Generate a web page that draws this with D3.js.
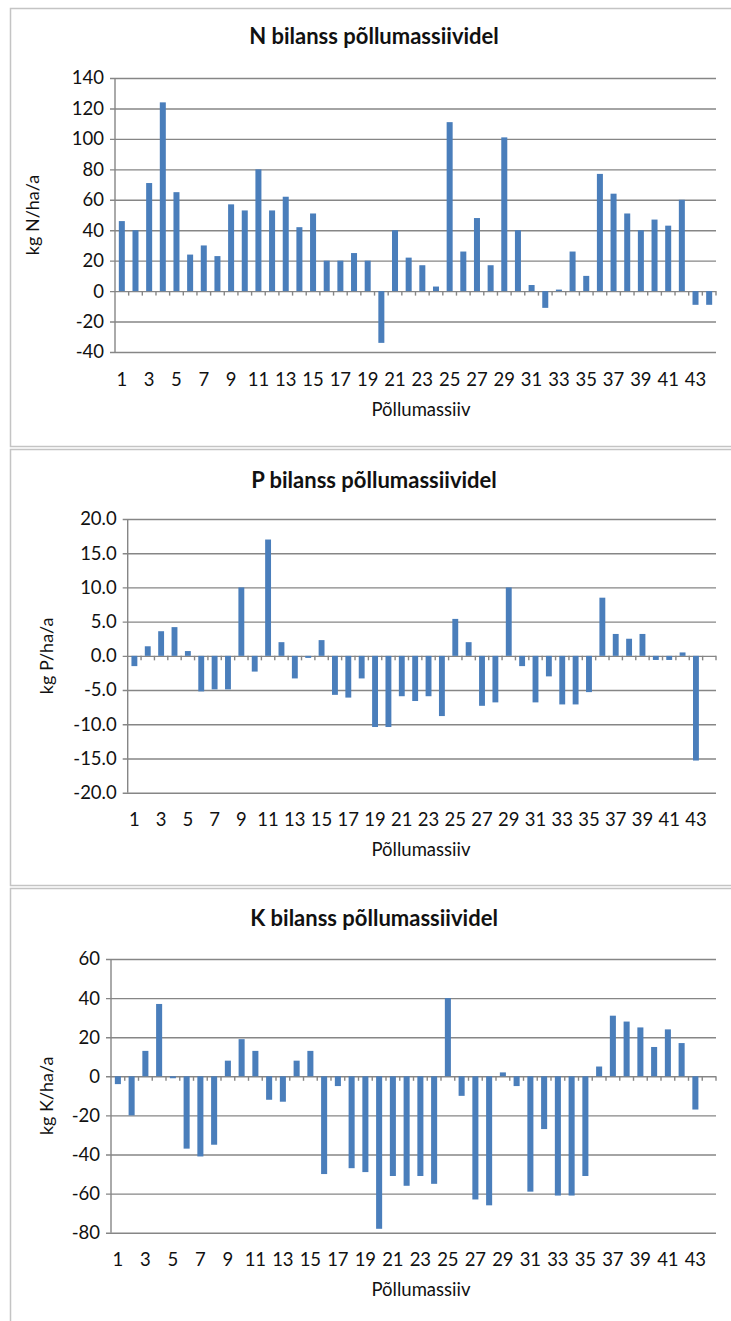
<!DOCTYPE html>
<html>
<head>
<meta charset="utf-8">
<script src="https://cdn.jsdelivr.net/npm/d3@7"></script>
<style>
  html, body { margin: 0; padding: 0; background: #fff; }
  svg { display: block; }
  text { font-family: Lato, "Open Sans", sans-serif; fill: #111; }
</style>
</head>
<body>
<svg id="chart" width="731" height="1321"></svg>
<script>
// Field block numbers (põllumassiivid) 1..44
const massiivid = d3.range(1, 45).map(String);

// Nitrogen balance, kg N/ha/a
const nBilanss = [46, 40, 71, 124, 65, 24, 30, 23, 57, 53,
                  80, 53, 62, 42, 51, 20, 20, 25, 20, -34,
                  40, 22, 17, 3, 111, 26, 48, 17, 101, 40,
                  4, -11, 1, 26, 10, 77, 64, 51, 40, 47,
                  43, 60, -9, -9];

// Phosphorus balance, kg P/ha/a
const pBilanss = [-1.5, 1.4, 3.6, 4.2, 0.7, -5.2, -4.9, -4.9, 10.0, -2.3,
                  17.0, 2.0, -3.3, -0.3, 2.3, -5.7, -6.1, -3.3, -10.4, -10.4,
                  -5.9, -6.6, -5.9, -8.8, 5.4, 2.0, -7.3, -6.8, 10.0, -1.5,
                  -6.8, -3.0, -7.1, -7.1, -5.3, 8.5, 3.2, 2.5, 3.2, -0.6,
                  -0.6, 0.5, -15.3, null];

// Potassium balance, kg K/ha/a
const kBilanss = [-4, -20, 13, 37, -1, -37, -41, -35, 8, 19,
                  13, -12, -13, 8, 13, -50, -5, -47, -49, -78,
                  -51, -56, -51, -55, 40, -10, -63, -66, 2, -5,
                  -59, -27, -61, -61, -51, 5, 31, 28, 25, 15,
                  24, 17, -17, null];

// Axis tick values
const nTicks = d3.range(-40, 141, 20);
const pTicks = d3.range(-20, 20.01, 5);
const kTicks = d3.range(-80, 61, 20);

const titles = ["N bilanss põllumassiividel", "P bilanss põllumassiividel", "K bilanss põllumassiividel"];
const yTitles = ["kg N/ha/a", "kg P/ha/a", "kg K/ha/a"];
const xTitle = "Põllumassiiv";

const barColor = "#4a7ebb";
const gridColor = "#868686";
const frameColor = "#c4c4c4";

// plain hyphen for negative numbers
const locale = d3.formatLocale({ decimal: ".", thousands: "", grouping: [3], currency: ["", ""], minus: "-" });

const svg = d3.select("#chart");

// Layout of the three stacked panels
const panels = [
  { values: nBilanss, ticks: nTicks, fmt: locale.format("d"),
    frame: [8, 446], titleY: 44, top: 78, bottom: 352, left: 115,
    yTitleX: 33, xLabY: 386, xTitleY: 416 },
  { values: pBilanss, ticks: pTicks, fmt: locale.format(".1f"),
    frame: [449, 885], titleY: 488, top: 519, bottom: 792.7, left: 127.7,
    yTitleX: 47, xLabY: 826, xTitleY: 856 },
  { values: kBilanss, ticks: kTicks, fmt: locale.format("d"),
    frame: [888, 1330], titleY: 926, top: 959, bottom: 1232.7, left: 111,
    yTitleX: 47, xLabY: 1266, xTitleY: 1296 }
];
const right = 716;

panels.forEach((p, i) => {
  const g = svg.append("g");

  // panel frame
  g.append("rect")
    .attr("x", 10.5).attr("y", p.frame[0] + 0.5)
    .attr("width", 740).attr("height", p.frame[1] - p.frame[0])
    .attr("fill", "none").attr("stroke", frameColor).attr("stroke-width", 1.5);

  const x = d3.scaleBand()
    .domain(massiivid)
    .range([p.left, right])
    .paddingInner(0.56)
    .paddingOuter(0.28);

  const y = d3.scaleLinear()
    .domain([p.ticks[0], p.ticks[p.ticks.length - 1]])
    .range([p.bottom, p.top]);

  // horizontal gridlines with y-axis labels
  const yAxis = d3.axisLeft(y)
    .tickValues(p.ticks)
    .tickSize(-(right - p.left))
    .tickPadding(11)
    .tickFormat(p.fmt);
  const ya = g.append("g")
    .attr("transform", `translate(${p.left},0)`)
    .call(yAxis);
  ya.select(".domain").remove();
  ya.selectAll(".tick line")
    .attr("x1", -5)
    .attr("stroke", gridColor).attr("stroke-width", 1.4);
  ya.selectAll(".tick text")
    .style("font-size", "18.5px").attr("fill", "#111");

  // vertical axis line
  g.append("line")
    .attr("x1", p.left).attr("x2", p.left)
    .attr("y1", y(p.ticks[p.ticks.length - 1])).attr("y2", y(p.ticks[0]))
    .attr("stroke", gridColor).attr("stroke-width", 1.4);

  // bars
  g.append("g").selectAll("rect")
    .data(p.values.map((v, k) => ({ c: massiivid[k], v })).filter(d => d.v !== null))
    .join("rect")
    .attr("x", d => x(d.c))
    .attr("width", x.bandwidth())
    .attr("y", d => y(Math.max(0, d.v)))
    .attr("height", d => Math.abs(y(d.v) - y(0)))
    .attr("fill", barColor);

  // category axis on the zero line, tick marks between categories
  const zeroY = y(0);
  const half = x.step() * x.paddingInner() / 2;
  const bounds = massiivid.slice(1).map(c => x(c) - half).concat([right]);
  g.append("g").selectAll("line")
    .data(bounds)
    .join("line")
    .attr("x1", d => d).attr("x2", d => d)
    .attr("y1", zeroY).attr("y2", zeroY + 4.5)
    .attr("stroke", gridColor).attr("stroke-width", 1.4);

  // category labels, every second one
  g.append("g").selectAll("text")
    .data(massiivid.filter((c, k) => k % 2 === 0))
    .join("text")
    .attr("x", d => x(d) + x.bandwidth() / 2)
    .attr("y", p.xLabY)
    .attr("text-anchor", "middle")
    .style("font-size", "18.5px")
    .text(d => d);

  // chart title
  g.append("text")
    .attr("x", 374).attr("y", p.titleY)
    .attr("text-anchor", "middle")
    .style("font-size", "22px").style("font-weight", "bold")
    .text(titles[i]);

  // axis titles
  g.append("text")
    .attr("transform", `translate(${p.yTitleX},${(p.top + p.bottom) / 2}) rotate(-90)`)
    .attr("text-anchor", "middle").attr("dy", "0.35em")
    .style("font-size", "18px")
    .text(yTitles[i]);

  g.append("text")
    .attr("x", 421).attr("y", p.xTitleY)
    .attr("text-anchor", "middle")
    .style("font-size", "18.5px")
    .text(xTitle);
});
</script>
</body>
</html>
